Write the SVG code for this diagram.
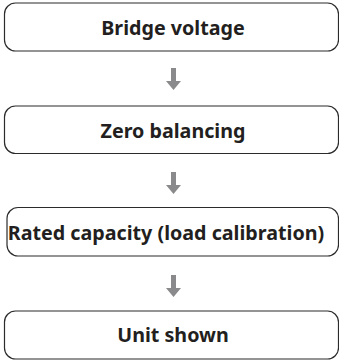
<svg xmlns="http://www.w3.org/2000/svg" width="339" height="360" viewBox="0 0 339 360">
<defs>
<style>
.box{fill:#fff;stroke:#2b2b2b;stroke-width:1.2}
.lbl{font-family:"Noto Sans","Open Sans",sans-serif;font-weight:700;font-size:19.7px;fill:#231f20;text-anchor:middle}
.arr{fill:#8a8a8c}
</style>
<path id="arrowShape" d="M-2.5,0 H2.5 V13 H7.5 L0,22 L-7.5,13 H-2.5 Z"/>
</defs>
<rect width="339" height="360" fill="#fff"/>
<g id="connectors">
<use href="#arrowShape" class="arr" transform="translate(173.5,68)"/>
<use href="#arrowShape" class="arr" transform="translate(173.5,172)"/>
<use href="#arrowShape" class="arr" transform="translate(173.5,275)"/>
</g>
<g id="node-bridge-voltage">
<rect class="box" x="4.5" y="3" width="334" height="48" rx="11"/>
<text class="lbl" x="173" y="34.5">Bridge voltage</text>
</g>
<g id="node-zero-balancing">
<rect class="box" x="4.5" y="106" width="334" height="47.5" rx="11"/>
<text class="lbl" x="173" y="137.5">Zero balancing</text>
</g>
<g id="node-rated-capacity">
<rect class="box" x="7" y="207.5" width="331.5" height="48.5" rx="11"/>
<text class="lbl" x="166" y="239.5">Rated capacity (load calibration)</text>
</g>
<g id="node-unit-shown">
<rect class="box" x="4.5" y="311" width="334" height="48" rx="11"/>
<text class="lbl" x="173" y="342">Unit shown</text>
</g>
</svg>
